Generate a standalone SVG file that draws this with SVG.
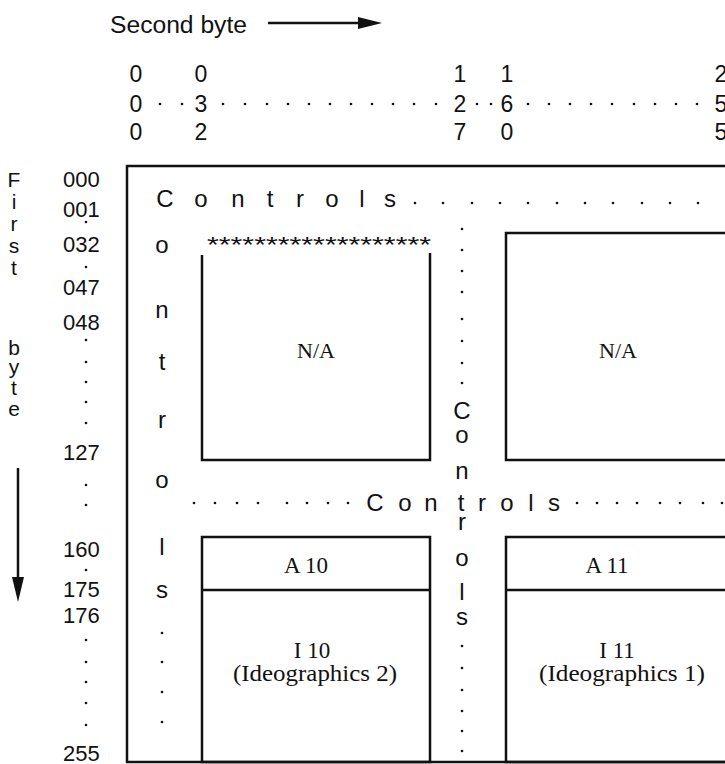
<svg xmlns="http://www.w3.org/2000/svg" width="725" height="764" viewBox="0 0 725 764">
<style>
  .s { font-family: "Liberation Sans", Arial, sans-serif; fill: #111; }
  .f { font-family: "Liberation Serif", "Times New Roman", serif; fill: #111; }
  .ln { fill: none; stroke: #111; stroke-width: 2.5; }
  .dot { fill: #111; }
  .c { text-anchor: middle; }
</style>
<defs>
  <circle id="d" r="1.3" class="dot"/>
</defs>
<rect width="725" height="764" fill="#fff"/>

<g id="axis-second">
  <text class="s" x="110" y="33" font-size="23" textLength="137" lengthAdjust="spacingAndGlyphs">Second byte</text>
  <line x1="268" y1="23" x2="362" y2="23" stroke="#111" stroke-width="2.5"/>
  <polygon points="358,17 382,23 358,29" fill="#111"/>
  <g class="s c" font-size="23">
    <text x="136" y="82">0</text><text x="136" y="112">0</text><text x="136" y="140">0</text>
    <text x="201" y="82">0</text><text x="201" y="112">3</text><text x="201" y="140">2</text>
    <text x="460" y="82">1</text><text x="460" y="112">2</text><text x="460" y="140">7</text>
    <text x="507" y="82">1</text><text x="507" y="112">6</text><text x="507" y="140">0</text>
    <text x="721" y="82">2</text><text x="721" y="112">5</text><text x="721" y="140">5</text>
  </g>
  <g>
    <use href="#d" x="160" y="104"/><use href="#d" x="182" y="104"/>
    <use href="#d" x="223" y="104"/><use href="#d" x="245" y="104"/><use href="#d" x="267" y="104"/><use href="#d" x="288" y="104"/><use href="#d" x="309" y="104"/><use href="#d" x="330" y="104"/><use href="#d" x="351" y="104"/><use href="#d" x="372" y="104"/><use href="#d" x="393" y="104"/><use href="#d" x="414" y="104"/><use href="#d" x="436" y="104"/>
    <use href="#d" x="477" y="104"/><use href="#d" x="491" y="104"/>
    <use href="#d" x="528" y="104"/><use href="#d" x="549" y="104"/><use href="#d" x="570" y="104"/><use href="#d" x="591" y="104"/><use href="#d" x="612" y="104"/><use href="#d" x="634" y="104"/><use href="#d" x="655" y="104"/><use href="#d" x="676" y="104"/><use href="#d" x="697" y="104"/>
  </g>
</g>

<g id="axis-first">
  <g class="s c" font-size="21">
    <text x="14" y="187">F</text><text x="14" y="209">i</text><text x="14" y="231">r</text><text x="14" y="253">s</text><text x="14" y="275">t</text>
    <text x="14" y="355">b</text><text x="14" y="374">y</text><text x="14" y="395">t</text><text x="14" y="416">e</text>
  </g>
  <line x1="18" y1="468" x2="18" y2="580" stroke="#111" stroke-width="2.5"/>
  <polygon points="12,577 24,577 18,602" fill="#111"/>
  <g class="s" font-size="22">
    <text x="63" y="187">000</text><text x="63" y="217">001</text><text x="63" y="252">032</text>
    <text x="63" y="295">047</text><text x="63" y="330">048</text><text x="63" y="460">127</text>
    <text x="63" y="557">160</text><text x="63" y="597">175</text><text x="63" y="623">176</text>
    <text x="63" y="761">255</text>
  </g>
  <g>
    <use href="#d" x="86" y="222"/><use href="#d" x="86" y="267"/>
    <use href="#d" x="86" y="340"/><use href="#d" x="86" y="362"/><use href="#d" x="86" y="382"/><use href="#d" x="86" y="402"/><use href="#d" x="86" y="423"/>
    <use href="#d" x="86" y="485"/><use href="#d" x="86" y="505"/><use href="#d" x="86" y="570"/>
    <use href="#d" x="86" y="640"/><use href="#d" x="86" y="662"/><use href="#d" x="86" y="682"/><use href="#d" x="86" y="703"/><use href="#d" x="86" y="725"/>
  </g>
</g>

<g id="frame">
  <rect class="ln" x="127" y="166" width="630" height="596"/>
</g>

<g id="controls-top">
  <text class="s c" font-size="24" x="165 201 238 270 300 332 362 390" y="207">Controls</text>
  <g>
    <use href="#d" x="415" y="203"/><use href="#d" x="443" y="203"/><use href="#d" x="472" y="203"/><use href="#d" x="500" y="203"/><use href="#d" x="528" y="203"/><use href="#d" x="557" y="203"/><use href="#d" x="585" y="203"/><use href="#d" x="613" y="203"/><use href="#d" x="642" y="203"/><use href="#d" x="670" y="203"/><use href="#d" x="698" y="203"/>
  </g>
</g>

<g id="controls-left">
  <g class="s c" font-size="24">
    <text x="162" y="253">o</text><text x="162" y="318">n</text><text x="162" y="370">t</text><text x="162" y="428">r</text>
    <text x="162" y="488">o</text><text x="162" y="555">l</text><text x="162" y="598">s</text>
  </g>
  <use href="#d" x="162" y="633"/><use href="#d" x="162" y="662"/><use href="#d" x="162" y="692"/><use href="#d" x="162" y="722"/>
</g>

<g id="controls-middle-h">
  <text class="s c" font-size="24" x="375 405 431 461 482 507 531 554" y="511">Controls</text>
  <g>
    <use href="#d" x="194" y="503"/><use href="#d" x="215" y="503"/><use href="#d" x="237" y="503"/><use href="#d" x="258" y="503"/><use href="#d" x="287" y="503"/><use href="#d" x="307" y="503"/><use href="#d" x="328" y="503"/><use href="#d" x="348" y="503"/>
    <use href="#d" x="577" y="503"/><use href="#d" x="597" y="503"/><use href="#d" x="617" y="503"/><use href="#d" x="637" y="503"/><use href="#d" x="660" y="503"/><use href="#d" x="680" y="503"/><use href="#d" x="703" y="503"/><use href="#d" x="722" y="503"/>
  </g>
</g>

<g id="controls-middle-v">
  <g>
    <use href="#d" x="462" y="229"/><use href="#d" x="462" y="250"/><use href="#d" x="462" y="271"/><use href="#d" x="462" y="292"/><use href="#d" x="462" y="319"/><use href="#d" x="462" y="341"/><use href="#d" x="462" y="363"/><use href="#d" x="462" y="383"/>
  </g>
  <g class="s c" font-size="24">
    <text x="462" y="419">C</text><text x="462" y="443">o</text><text x="462" y="479">n</text>
    <text x="462" y="530">r</text><text x="462" y="566">o</text><text x="462" y="600">l</text><text x="462" y="625">s</text>
  </g>
  <g>
    <use href="#d" x="462" y="646"/><use href="#d" x="462" y="668"/><use href="#d" x="462" y="690"/><use href="#d" x="462" y="711"/><use href="#d" x="462" y="731"/><use href="#d" x="462" y="751"/>
  </g>
</g>

<g id="na-left">
  <text class="s" font-size="22" x="207" y="252" textLength="224" lengthAdjust="spacingAndGlyphs">*******************</text>
  <path class="ln" d="M202 255 V460 H430 V253"/>
  <text class="f c" font-size="22" x="316" y="358">N/A</text>
</g>

<g id="na-right">
  <rect class="ln" x="506" y="233" width="228" height="227"/>
  <text class="f c" font-size="22" x="618" y="358">N/A</text>
</g>

<g id="block-10">
  <rect class="ln" x="202" y="537" width="228" height="225"/>
  <line class="ln" x1="202" y1="590" x2="430" y2="590"/>
  <text class="f c" font-size="23" x="306" y="573">A 10</text>
  <text class="f c" font-size="23" x="312" y="658">I 10</text>
  <text class="f c" font-size="23" x="315" y="681" textLength="164" lengthAdjust="spacingAndGlyphs">(Ideographics 2)</text>
</g>

<g id="block-11">
  <rect class="ln" x="506" y="537" width="228" height="225"/>
  <line class="ln" x1="506" y1="590" x2="734" y2="590"/>
  <text class="f c" font-size="23" x="607" y="573">A 11</text>
  <text class="f c" font-size="23" x="617" y="658">I 11</text>
  <text class="f c" font-size="23" x="622" y="681" textLength="166" lengthAdjust="spacingAndGlyphs">(Ideographics 1)</text>
</g>
</svg>
